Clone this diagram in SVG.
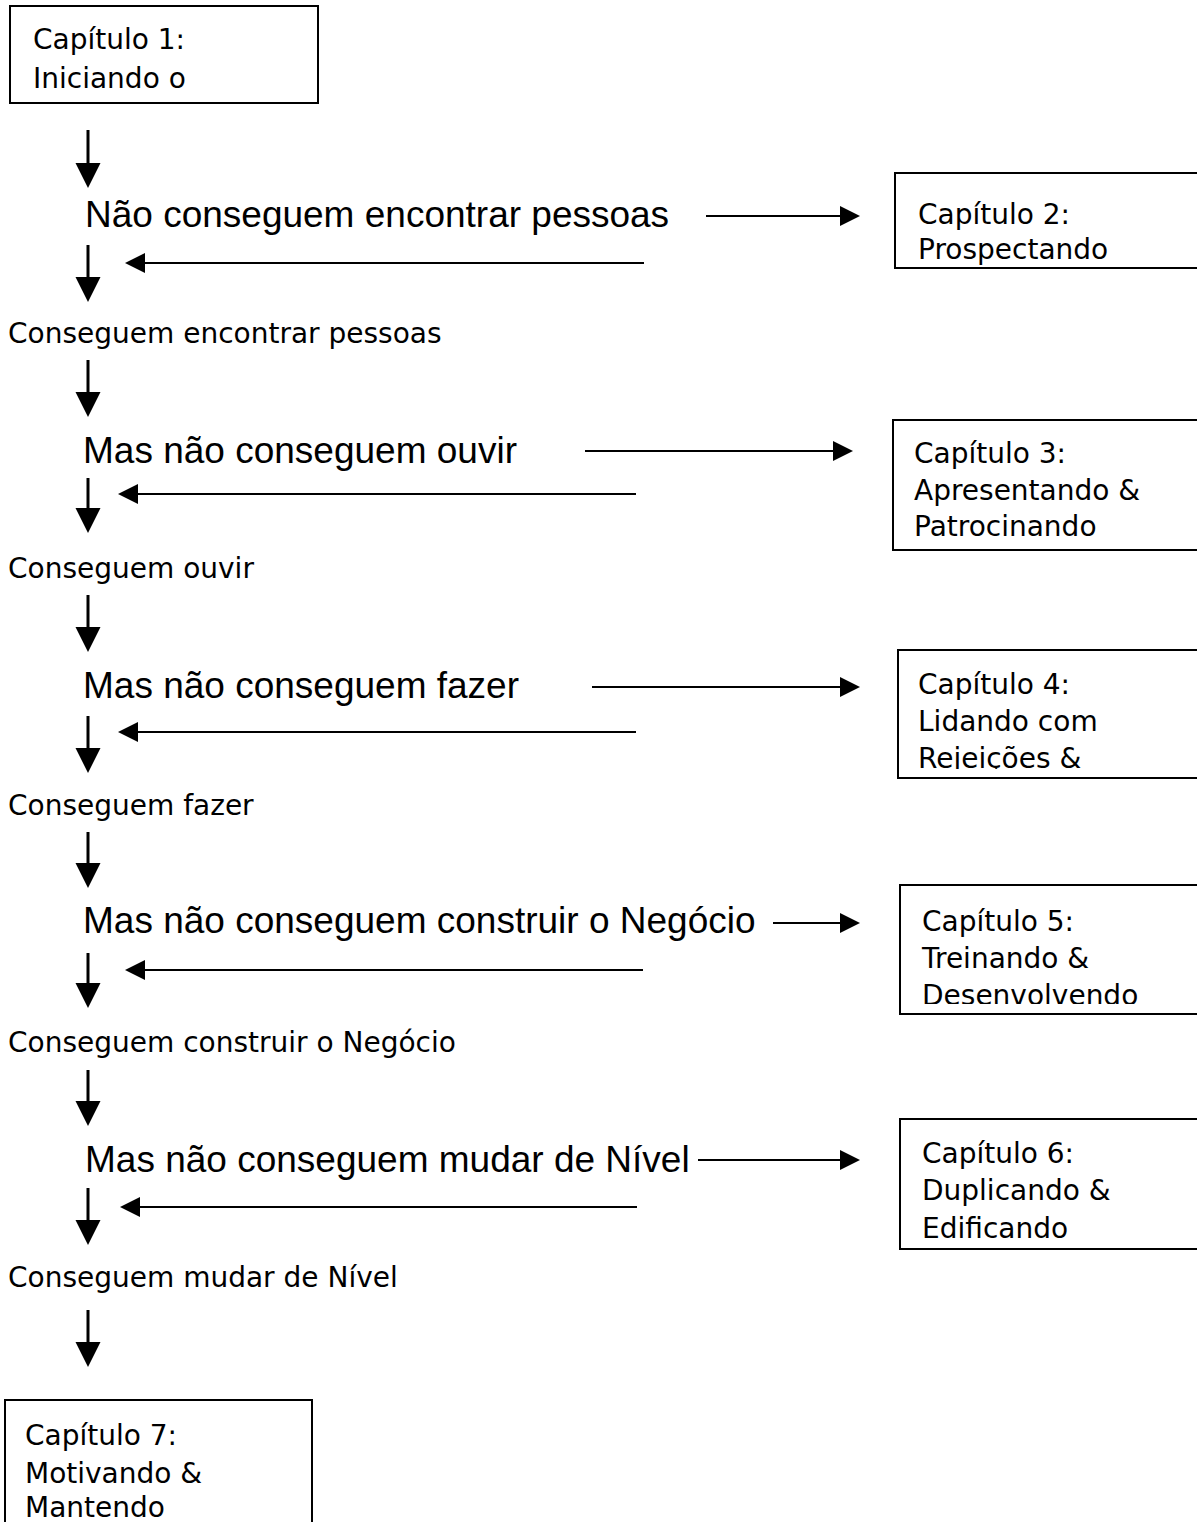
<svg xmlns="http://www.w3.org/2000/svg" width="1197" height="1522" viewBox="0 0 1197 1522">
<style>
.box{fill:#fff;stroke:#000;stroke-width:2}
.bt{font-family:"DejaVu Sans","Verdana",sans-serif;font-size:28px;fill:#000}
.st{font-family:"DejaVu Sans","Verdana",sans-serif;font-size:28px;fill:#000}
.big{font-family:"Liberation Sans","Arial",sans-serif;font-size:37px;fill:#000}
.v{stroke:#000;stroke-width:3;fill:none}
.h{stroke:#000;stroke-width:2;fill:none}
</style>
<defs>
<marker id="mv" markerUnits="userSpaceOnUse" markerWidth="25" markerHeight="25" refX="0" refY="12.5" orient="auto" overflow="visible">
<path d="M0,0 L25,12.5 L0,25 z" fill="#000"/>
</marker>
<marker id="mh" markerUnits="userSpaceOnUse" markerWidth="20" markerHeight="20" refX="0" refY="10" orient="auto" overflow="visible">
<path d="M0,0 L20,10 L0,20 z" fill="#000"/>
</marker>
<clipPath id="c4"><rect x="898" y="650" width="320" height="119"/></clipPath>
<clipPath id="c5"><rect x="900" y="885" width="320" height="119"/></clipPath>
<clipPath id="c6"><rect x="900" y="1119" width="320" height="119"/></clipPath>
</defs>

<g id="connectors">
<line class="v" x1="88" y1="130" x2="88" y2="163" marker-end="url(#mv)"/>
<line class="v" x1="88" y1="245" x2="88" y2="277" marker-end="url(#mv)"/>
<line class="v" x1="88" y1="360" x2="88" y2="392" marker-end="url(#mv)"/>
<line class="v" x1="88" y1="478" x2="88" y2="508" marker-end="url(#mv)"/>
<line class="v" x1="88" y1="595" x2="88" y2="627" marker-end="url(#mv)"/>
<line class="v" x1="88" y1="716" x2="88" y2="748" marker-end="url(#mv)"/>
<line class="v" x1="88" y1="832" x2="88" y2="863" marker-end="url(#mv)"/>
<line class="v" x1="88" y1="953" x2="88" y2="983" marker-end="url(#mv)"/>
<line class="v" x1="88" y1="1070" x2="88" y2="1101" marker-end="url(#mv)"/>
<line class="v" x1="88" y1="1188" x2="88" y2="1220" marker-end="url(#mv)"/>
<line class="v" x1="88" y1="1310" x2="88" y2="1342" marker-end="url(#mv)"/>

<line class="h" x1="706" y1="216" x2="840" y2="216" marker-end="url(#mh)"/>
<line class="h" x1="585" y1="451" x2="833" y2="451" marker-end="url(#mh)"/>
<line class="h" x1="592" y1="687" x2="840" y2="687" marker-end="url(#mh)"/>
<line class="h" x1="773" y1="923" x2="840" y2="923" marker-end="url(#mh)"/>
<line class="h" x1="698" y1="1160" x2="840" y2="1160" marker-end="url(#mh)"/>

<line class="h" x1="644" y1="263" x2="145" y2="263" marker-end="url(#mh)"/>
<line class="h" x1="636" y1="494" x2="138" y2="494" marker-end="url(#mh)"/>
<line class="h" x1="636" y1="732" x2="138" y2="732" marker-end="url(#mh)"/>
<line class="h" x1="643" y1="970" x2="145" y2="970" marker-end="url(#mh)"/>
<line class="h" x1="637" y1="1207" x2="140" y2="1207" marker-end="url(#mh)"/>
</g>

<g id="ch1">
<rect class="box" x="10" y="6" width="308" height="97"/>
<text class="bt" x="33" y="49">Capítulo 1:</text>
<text class="bt" x="33" y="88">Iniciando o</text>
</g>

<g id="q1"><text class="big" x="85" y="227">Não conseguem encontrar pessoas</text></g>

<g id="ch2">
<rect class="box" x="895" y="173" width="330" height="95"/>
<text class="bt" x="918" y="224">Capítulo 2:</text>
<text class="bt" x="918" y="259">Prospectando</text>
</g>

<g id="a1"><text class="st" x="8" y="343">Conseguem encontrar pessoas</text></g>

<g id="q2"><text class="big" x="83" y="463">Mas não conseguem ouvir</text></g>

<g id="ch3">
<rect class="box" x="893" y="420" width="330" height="130"/>
<text class="bt" x="914" y="463">Capítulo 3:</text>
<text class="bt" x="914" y="500">Apresentando &amp;</text>
<text class="bt" x="914" y="536">Patrocinando</text>
</g>

<g id="a2"><text class="st" x="8" y="578">Conseguem ouvir</text></g>

<g id="q3"><text class="big" x="83" y="698">Mas não conseguem fazer</text></g>

<g id="ch4">
<rect class="box" x="898" y="650" width="330" height="128"/>
<g clip-path="url(#c4)">
<text class="bt" x="918" y="694">Capítulo 4:</text>
<text class="bt" x="918" y="731">Lidando com</text>
<text class="bt" x="918" y="768">Rejeições &amp;</text>
</g>
</g>

<g id="a3"><text class="st" x="8" y="815">Conseguem fazer</text></g>

<g id="q4"><text class="big" x="83" y="933">Mas não conseguem construir o Negócio</text></g>

<g id="ch5">
<rect class="box" x="900" y="885" width="330" height="129"/>
<g clip-path="url(#c5)">
<text class="bt" x="922" y="931">Capítulo 5:</text>
<text class="bt" x="922" y="968">Treinando &amp;</text>
<text class="bt" x="922" y="1005">Desenvolvendo</text>
</g>
</g>

<g id="a4"><text class="st" x="8" y="1052">Conseguem construir o Negócio</text></g>

<g id="q5"><text class="big" x="85" y="1172">Mas não conseguem mudar de Nível</text></g>

<g id="ch6">
<rect class="box" x="900" y="1119" width="330" height="130"/>
<g clip-path="url(#c6)">
<text class="bt" x="922" y="1163">Capítulo 6:</text>
<text class="bt" x="922" y="1200">Duplicando &amp;</text>
<text class="bt" x="922" y="1238">Edificando</text>
</g>
</g>

<g id="a5"><text class="st" x="8" y="1287">Conseguem mudar de Nível</text></g>

<g id="ch7">
<rect class="box" x="5" y="1400" width="307" height="140"/>
<text class="bt" x="25" y="1445">Capítulo 7:</text>
<text class="bt" x="25" y="1483">Motivando &amp;</text>
<text class="bt" x="25" y="1517">Mantendo</text>
</g>
</svg>
